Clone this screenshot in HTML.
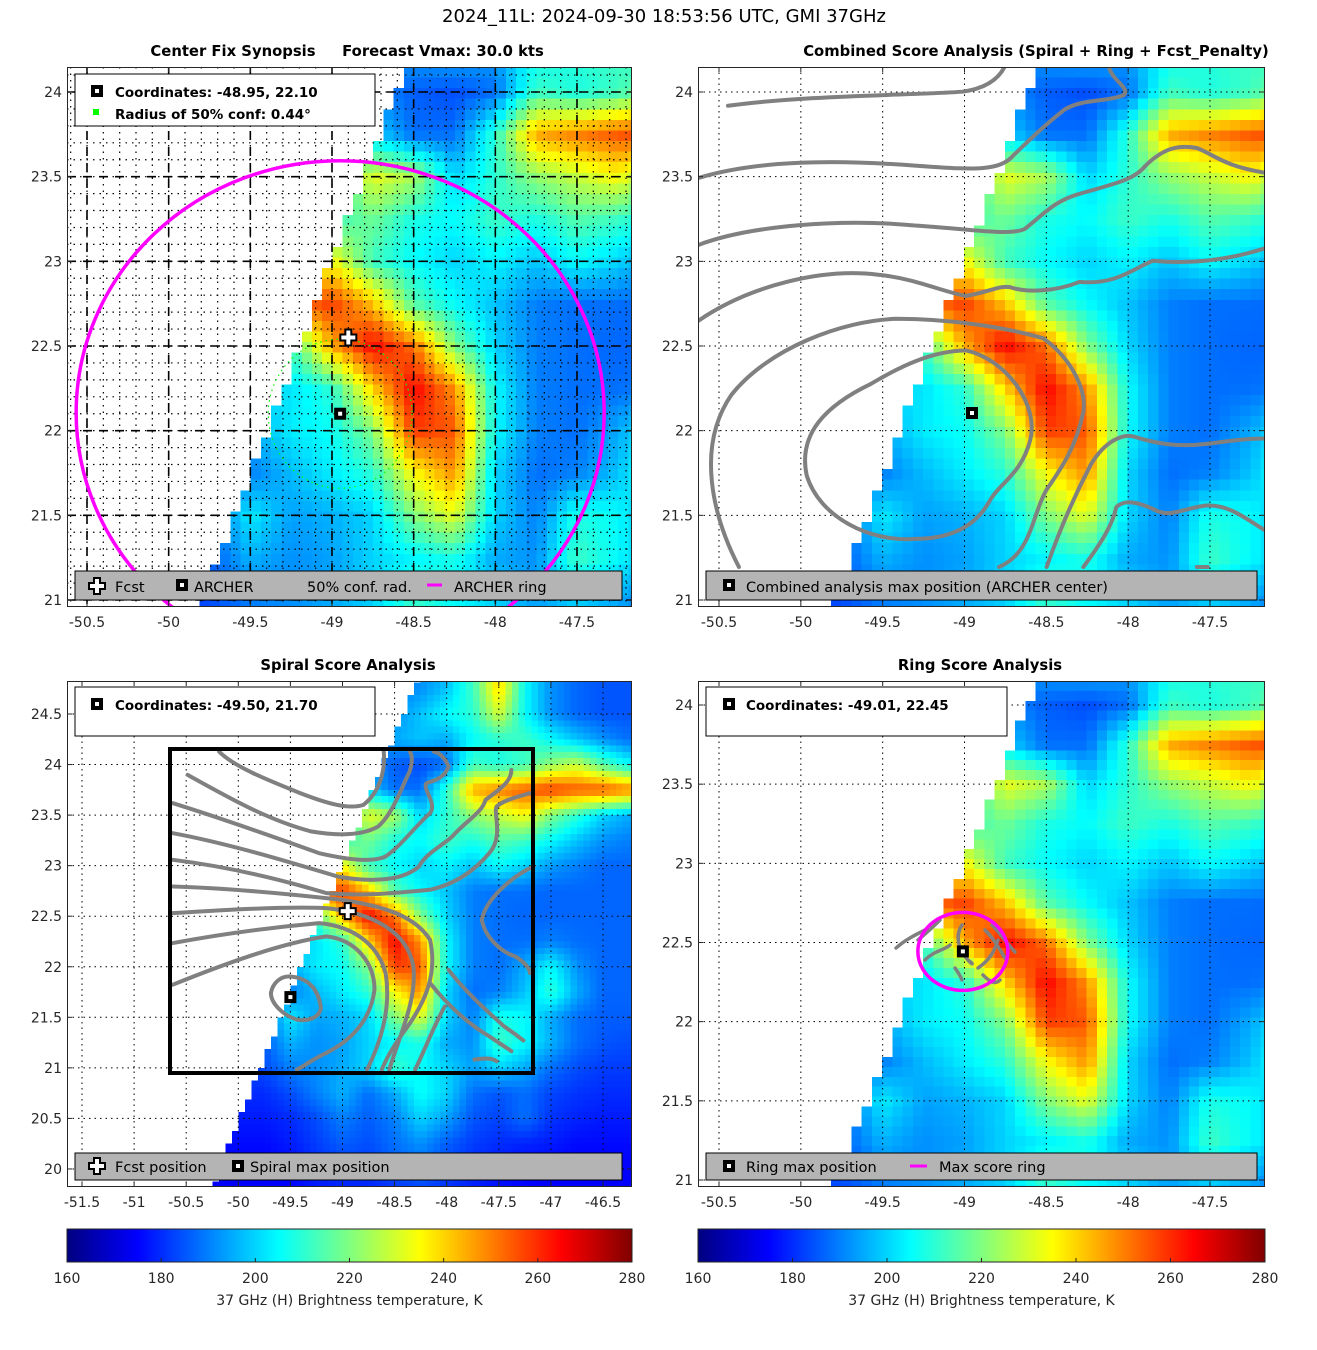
<!DOCTYPE html>
<html><head><meta charset="utf-8">
<style>
html,body{margin:0;padding:0;background:#fff;}
svg{display:block;font-family:"DejaVu Sans","Liberation Sans",sans-serif;}
.tk{font-size:14px;fill:#262626;}
.ttl{font-size:14.8px;font-weight:bold;fill:#000;}
.lg{font-size:14.5px;fill:#000;}
.lgb{font-size:13.5px;font-weight:bold;fill:#000;}
.ct{fill:none;stroke:#808080;stroke-width:4;stroke-linecap:round;stroke-linejoin:round;}
</style></head>
<body>
<svg id="chart" width="1317" height="1350" viewBox="0 0 1317 1350" xmlns="http://www.w3.org/2000/svg">
<defs>
<clipPath id="c1"><rect x="67" y="67" width="565" height="540"/></clipPath>
<clipPath id="c2"><rect x="698" y="67" width="567" height="540"/></clipPath>
<clipPath id="c3"><rect x="67" y="681" width="565" height="506"/></clipPath>
<clipPath id="c4"><rect x="698" y="681" width="567" height="506"/></clipPath>
<linearGradient id="jet" x1="0" x2="1" y1="0" y2="0"></linearGradient>
</defs>
<text x="664" y="22" text-anchor="middle" font-size="18" fill="#000">2024_11L: 2024-09-30 18:53:56 UTC, GMI 37GHz</text>
<text x="233" y="56" text-anchor="middle" class="ttl">Center Fix Synopsis</text>
<text x="443" y="56" text-anchor="middle" class="ttl">Forecast Vmax: 30.0 kts</text>
<text x="1036" y="56" text-anchor="middle" class="ttl">Combined Score Analysis (Spiral + Ring + Fcst_Penalty)</text>
<text x="348" y="670" text-anchor="middle" class="ttl">Spiral Score Analysis</text>
<text x="980" y="670" text-anchor="middle" class="ttl">Ring Score Analysis</text>
<g id="layers"></g>
</svg>
<script>
// ---- data: 37 GHz brightness temperature grid (K), 0.25 deg spacing ----
const lons=[-50.75,-50.5,-50.25,-50,-49.75,-49.5,-49.25,-49,-48.75,-48.5,-48.25,-48,-47.75,-47.5,-47.25,-47,-46.75,-46.5,-46.25];
const lats=[24.75,24.5,24.25,24,23.75,23.5,23.25,23,22.75,22.5,22.25,22,21.75,21.5,21.25,21,20.75,20.5,20.25,20,19.75];
const tb=[
[187,187,187,187,187,187,187,187,187,190,192,198,212,240,205,192,187,185,185],
[187,187,187,187,187,187,187,187,187,192,198,205,210,230,205,192,187,185,185],
[187,187,187,187,187,187,187,187,190,195,198,195,205,210,212,205,198,192,188],
[187,187,187,187,187,187,187,187,192,186,184,188,212,208,212,222,228,215,205],
[187,187,187,187,187,187,187,187,200,188,188,210,245,250,255,258,255,255,250],
[187,187,187,187,187,187,187,205,232,225,200,210,222,228,235,220,210,200,195],
[187,187,187,187,187,187,195,212,218,208,205,212,208,215,212,205,198,192,190],
[187,187,187,187,187,187,212,235,212,205,200,204,198,205,200,193,190,187,187],
[187,187,187,187,187,200,250,258,242,215,205,198,190,188,188,187,187,187,187],
[187,187,187,187,187,222,212,245,265,252,220,200,190,188,187,187,187,187,187],
[187,187,187,187,187,200,202,210,240,265,248,205,190,188,188,190,188,187,187],
[187,187,187,187,185,195,203,206,220,258,255,205,190,188,195,205,192,187,187],
[187,187,187,187,185,190,197,203,210,235,248,200,188,190,198,210,195,187,187],
[187,187,187,187,186,203,194,196,200,220,232,200,190,208,205,195,188,186,186],
[184,184,184,184,186,196,192,194,200,204,208,195,192,212,205,196,188,185,184],
[182,182,182,182,184,190,192,195,200,212,205,200,194,200,195,188,184,182,182],
[180,180,180,180,180,184,190,196,188,195,206,200,188,185,188,183,181,180,180],
[178,178,178,178,178,180,184,190,186,190,200,194,185,183,188,181,179,178,178],
[176,176,176,176,176,178,182,186,184,188,192,186,182,180,179,178,176,176,176],
[175,175,175,175,175,176,180,182,182,186,188,184,180,178,176,175,175,175,175],
[174,174,174,174,174,175,177,178,178,180,182,180,178,176,175,174,174,174,174]
];
const cbTicks=[160,180,200,220,240,260,280];
const xTicksTop=[-50.5,-50,-49.5,-49,-48.5,-48,-47.5];
const yTicksTop=[21,21.5,22,22.5,23,23.5,24];
const xTicksP3=[-51.5,-51,-50.5,-50,-49.5,-49,-48.5,-48,-47.5,-47,-46.5];
const yTicksP3=[20,20.5,21,21.5,22,22.5,23,23.5,24,24.5];
const centerP1=[-48.95,22.10];
const fcstPos=[-48.90,22.55];
const spiralMax=[-49.50,21.70];
const ringMax=[-49.01,22.45];
const confRadius=0.44;

const NS="http://www.w3.org/2000/svg";
const root=document.getElementById('layers');
function mk(tag,attrs,parent){const e=document.createElementNS(NS,tag);for(const k in attrs)e.setAttribute(k,attrs[k]);(parent||root).appendChild(e);return e;}
function jet(v){let t=(v-160)/120;t=Math.max(0,Math.min(1,t));
 const c=x=>Math.round(255*Math.max(0,Math.min(1,x)));
 return `rgb(${c(1.5-Math.abs(4*t-3))},${c(1.5-Math.abs(4*t-2))},${c(1.5-Math.abs(4*t-1))})`;}
function val(lon,lat){
 let fj=(lon-lons[0])/0.25, fi=(lats[0]-lat)/0.25;
 fj=Math.max(0,Math.min(lons.length-1,fj)); fi=Math.max(0,Math.min(lats.length-1,fi));
 const j0=Math.floor(fj),i0=Math.floor(fi),j1=Math.min(j0+1,lons.length-1),i1=Math.min(i0+1,lats.length-1);
 const a=fj-j0,b=fi-i0;
 return (tb[i0][j0]*(1-a)+tb[i0][j1]*a)*(1-b)+(tb[i1][j0]*(1-a)+tb[i1][j1]*a)*b;}
function swathEdge(lat){return -48.55-(24.15-lat)*0.393;}

const panels=[
 {id:1,clip:'c1',x:67,y:67,w:565,h:540,lonRef:-50.5,xRef:87,sx:163.33,latRef:24,yRef:92,sy:169.33,xt:xTicksTop,yt:yTicksTop},
 {id:2,clip:'c2',x:698,y:67,w:567,h:540,lonRef:-50.5,xRef:719,sx:163.67,latRef:24,yRef:92,sy:169.33,xt:xTicksTop,yt:yTicksTop},
 {id:3,clip:'c3',x:67,y:681,w:565,h:506,lonRef:-51.5,xRef:82,sx:104.2,latRef:24.5,yRef:714,sy:101.1,xt:xTicksP3,yt:yTicksP3},
 {id:4,clip:'c4',x:698,y:681,w:567,h:506,lonRef:-50.5,xRef:719,sx:163.67,latRef:24,yRef:705,sy:158.33,xt:xTicksTop,yt:yTicksTop}
];
panels.forEach(p=>{p.px=lon=>p.xRef+(lon-p.lonRef)*p.sx;p.py=lat=>p.yRef-(lat-p.latRef)*p.sy;});

function square(x,y,parent,name){
 const g=mk('g',{},parent);
 
 
 mk('rect',{x:x-6,y:y-6,width:12,height:12,fill:'#000'},g);
 mk('rect',{x:x-2,y:y-2,width:4,height:4,fill:'#fff'},g);
 return g;}
function cross(x,y,parent,name){
 const d=`M${x-3},${y-8}h6v5h5v6h-5v5h-6v-5h-5v-6h5z`;
 const e=mk('path',{d:d,fill:'#fff',stroke:'#000','stroke-width':2},parent);
 
 
 return e;}

panels.forEach(p=>{
 const g=mk('g',{'clip-path':`url(#${p.clip})`});
 
 
 mk('rect',{x:p.x,y:p.y,width:p.w,height:p.h,fill:'#fff'},g);
 const hm=mk('g',{'shape-rendering':'crispEdges'},g);
 
 
 const step=0.0625;
 const lonMin=Math.max(lons[0]-0.125,p.lonRef+(p.x-p.xRef)/p.sx-step);
 const lonMax=Math.min(lons[lons.length-1]+0.125,p.lonRef+(p.x+p.w-p.xRef)/p.sx+step);
 const latMax=Math.min(lats[0]+0.125,p.latRef+(p.yRef-p.y)/p.sy+step);
 const latMin=Math.max(lats[lats.length-1]-0.125,p.latRef-(p.y+p.h-p.yRef)/p.sy-step);
 for(let lon=lonMin+step/2;lon<lonMax;lon+=step){
  for(let lat=latMax-step/2;lat>latMin;lat-=step){
   if(lon<swathEdge(lat))continue;
   const x0=p.px(lon-step/2),x1=p.px(lon+step/2),y0=p.py(lat+step/2),y1=p.py(lat-step/2);
   const r=mk('rect',{x:x0.toFixed(1),y:y0.toFixed(1),width:(x1-x0+0.6).toFixed(1),height:(y1-y0+0.6).toFixed(1),fill:jet(val(lon,lat))},hm);
   
   
  }}
 const gg=mk('g',{},g);
 
 
 if(p.id===1){
  for(let l=-50.6;l<=-47.1;l+=0.1){const x=p.px(l);mk('line',{x1:x,x2:x,y1:p.y,y2:p.y+p.h,stroke:'#000','stroke-width':1.2,'stroke-dasharray':'1.5,5'},gg);}
  for(let l=21;l<=24.2;l+=0.1){const y=p.py(l);mk('line',{x1:p.x,x2:p.x+p.w,y1:y,y2:y,stroke:'#000','stroke-width':1.2,'stroke-dasharray':'1.5,5'},gg);}
  p.xt.forEach(t=>{const x=p.px(t);mk('line',{x1:x,x2:x,y1:p.y,y2:p.y+p.h,stroke:'#000','stroke-width':1.6,'stroke-dasharray':'9,7'},gg);});
  p.yt.forEach(t=>{const y=p.py(t);mk('line',{x1:p.x,x2:p.x+p.w,y1:y,y2:y,stroke:'#000','stroke-width':1.6,'stroke-dasharray':'9,7'},gg);});
 } else {
  p.xt.forEach(t=>{const x=p.px(t);mk('line',{x1:x,x2:x,y1:p.y,y2:p.y+p.h,stroke:'#000','stroke-width':1,'stroke-dasharray':'1.5,4'},gg);});
  p.yt.forEach(t=>{const y=p.py(t);mk('line',{x1:p.x,x2:p.x+p.w,y1:y,y2:y,stroke:'#000','stroke-width':1,'stroke-dasharray':'1.5,4'},gg);});
 }
 p.g=g;
});

// ---- panel 1 overlays ----
{const p=panels[0];
 const cx=p.px(centerP1[0]),cy=p.py(centerP1[1]);
 const ring=mk('ellipse',{cx:cx,cy:cy-1,rx:264,ry:252,fill:'none',stroke:'#ff00ff','stroke-width':3.5},p.g);
 
 
 const cr=mk('ellipse',{cx:cx,cy:cy,rx:confRadius*p.sx,ry:confRadius*p.sy,fill:'none',stroke:'#00ff00','stroke-width':1.2,'stroke-dasharray':'1.5,4'},p.g);
 
 
 cross(p.px(fcstPos[0]),p.py(fcstPos[1]),p.g,'fcst-marker');
 square(cx,cy,p.g,'archer-marker');
}
// ---- panel 2 contours ----
{const p=panels[1];
 const cg=mk('g',{transform:'translate(695,60) scale(0.3663,0.3521)'},p.g);
 
 
 const paths=[
 'M90,130 C300,100 600,100 730,90 C800,80 830,50 845,20',
 'M10,335 C150,290 350,280 600,300 C750,310 830,320 870,270 C920,220 960,180 1010,140 C1060,110 1120,120 1170,100 C1190,80 1140,60 1130,20',
 'M10,525 C150,470 400,450 600,470 C750,480 860,500 900,480 C950,440 980,400 1050,380 C1150,350 1200,340 1230,300 C1280,250 1320,240 1370,250 C1420,270 1440,300 1555,320',
 'M10,740 C150,640 350,590 500,610 C600,620 680,660 740,670 C800,660 830,640 860,645 C900,660 980,660 1050,630 C1150,640 1200,590 1250,570 C1350,580 1450,570 1555,535',
 'M120,1440 C50,1300 0,1100 100,950 C200,820 400,740 550,735 C700,735 850,760 950,790 C1030,850 1070,940 1060,1000 C1040,1100 1000,1160 960,1220 C920,1290 920,1400 830,1440',
 'M740,825 C850,850 940,980 915,1080 C890,1180 830,1200 800,1260 C760,1330 690,1360 600,1360 C480,1370 340,1300 305,1180 C280,1060 360,980 480,920 C560,870 650,825 740,825 Z',
 'M960,1440 C990,1350 1030,1250 1080,1150 C1120,1080 1170,1060 1200,1070 C1260,1090 1320,1100 1400,1090 C1470,1080 1510,1075 1555,1075',
 'M1060,1440 C1110,1370 1140,1320 1150,1270 C1170,1250 1200,1250 1260,1280 C1300,1300 1340,1270 1400,1265 C1460,1265 1500,1300 1555,1335',
 'M1370,1440 L1400,1440'];
 paths.forEach(d=>{const e=mk('path',{d:d,class:'ct','vector-effect':'non-scaling-stroke'},cg);});
 square(972,413,p.g,'combined-max-marker');
}
// ---- panel 3 ----
{const p=panels[2];
 const cg=mk('g',{transform:'translate(60,680) scale(0.370,0.333)'},p.g);
 
 
 const paths=[
 'M430,215 C470,260 560,300 650,340 C720,370 780,390 820,375 C860,340 880,280 875,215',
 'M345,285 C450,350 560,420 680,455 C760,470 820,465 860,440 C900,400 920,330 945,275 C955,240 950,220 945,215',
 'M305,370 C450,420 600,480 700,520 C800,545 850,545 880,530 C920,500 960,440 1000,400 C1020,370 980,330 990,310 C1020,300 1040,290 1050,260 C1040,230 1020,215 1010,215',
 'M305,460 C450,490 600,540 750,590 C850,610 930,600 970,560 C990,520 1030,500 1060,470 C1100,420 1140,400 1150,360 C1200,320 1220,300 1220,270',
 'M305,540 C450,560 600,600 720,640 C820,650 900,640 1000,630 C1080,610 1130,560 1160,520 C1200,470 1170,400 1180,380 C1200,360 1240,350 1270,340',
 'M305,620 C450,625 600,640 760,660 C880,680 960,710 1000,780 C1020,880 990,960 940,1040 C900,1100 880,1140 870,1170',
 'M305,700 C450,690 600,680 720,685 C850,700 940,760 955,860 C965,960 920,1060 890,1170',
 'M305,790 C450,760 600,740 700,730 C800,740 860,800 880,880 C895,980 870,1080 830,1170',
 'M305,915 C450,850 600,790 720,770 C800,780 850,850 850,930 C840,1020 790,1080 720,1120 C680,1140 660,1160 640,1170',
 'M620,890 C680,895 700,940 705,985 C700,1020 660,1025 640,1020 C600,1005 570,970 570,940 C575,910 595,890 620,890 Z',
 'M1280,560 C1220,590 1150,660 1140,720 C1150,780 1200,820 1230,830 C1260,850 1270,870 1270,880',
 'M1050,870 C1090,930 1150,990 1200,1040 C1240,1070 1260,1090 1250,1080',
 'M1000,910 C1050,980 1100,1030 1160,1070 C1200,1100 1215,1110 1220,1115',
 'M960,1170 C990,1100 1010,1040 1040,980',
 'M1120,1140 C1150,1135 1170,1135 1180,1145'];
 paths.forEach(d=>{const e=mk('path',{d:d,class:'ct','vector-effect':'non-scaling-stroke'},cg);});
 const box=mk('rect',{x:170,y:749,width:363,height:324,fill:'none',stroke:'#000','stroke-width':4},p.g);
 
 
 cross(p.px(-48.95),p.py(22.55),p.g,'fcst-marker');
 square(p.px(spiralMax[0]),p.py(spiralMax[1]),p.g,'spiral-max-marker');
}
// ---- panel 4 ----
{const p=panels[3];
 const cx=p.px(ringMax[0]),cy=p.py(ringMax[1])+1;
 const cg=mk('g',{},p.g);
 
 
 ['M896,948 C905,940 915,935 925,930','M918,940 C930,930 935,925 940,920','M925,960 C935,950 945,950 950,945','M962,925 C955,935 958,950 968,960 C975,965 972,965 968,960','M978,968 C990,960 995,950 998,940','M985,930 C995,940 1000,950 1005,958','M992,925 C1002,935 1008,945 1015,952','M955,968 C960,975 962,980 962,980','M983,975 C990,982 995,985 1000,980'].forEach(d=>{
  const e=mk('path',{d:d,fill:'none',stroke:'#808080','stroke-width':3.5,'stroke-linecap':'round'},cg);
  
  });
 const r=mk('ellipse',{cx:cx,cy:cy,rx:45,ry:39,fill:'none',stroke:'#ff00ff','stroke-width':3.5},p.g);
 
 
 square(cx,cy,p.g,'ring-max-marker');
}

// ---- axes frames, ticks, labels ----
panels.forEach(p=>{
 const ax=mk('g',{});
 
 
 mk('rect',{x:p.x+0.5,y:p.y+0.5,width:p.w-1,height:p.h-1,fill:'none',stroke:'#262626','stroke-width':1},ax);
 p.xt.forEach(t=>{const x=p.px(t);
  mk('line',{x1:x,x2:x,y1:p.y+p.h,y2:p.y+p.h-5,stroke:'#262626'},ax);
  mk('line',{x1:x,x2:x,y1:p.y,y2:p.y+5,stroke:'#262626'},ax);
  const tx=mk('text',{x:x,y:p.y+p.h+20,'text-anchor':'middle',class:'tk'},ax);tx.textContent=String(t);
  
  });
 p.yt.forEach(t=>{const y=p.py(t);
  mk('line',{x1:p.x,x2:p.x+5,y1:y,y2:y,stroke:'#262626'},ax);
  mk('line',{x1:p.x+p.w,x2:p.x+p.w-5,y1:y,y2:y,stroke:'#262626'},ax);
  const tx=mk('text',{x:p.x-5,y:y+5,'text-anchor':'end',class:'tk'},ax);tx.textContent=String(t);
  
  });
});

// ---- legends ----
function box(x,y,w,h,fill,name){const r=mk('rect',{x:x,y:y,width:w,height:h,fill:fill,stroke:'#000','stroke-width':1});return r;}
function txt(x,y,s,cls,name){const t=mk('text',{x:x,y:y,class:cls});t.textContent=s;return t;}
box(75,74,300,52,'#fff','panel1-info-box');
square(97,91,root,'info-coord-marker');
txt(115,97,'Coordinates: -48.95, 22.10','lgb','coordinates-text');
mk('rect',{x:93,y:109,width:6,height:6,fill:'#00ff00'});
txt(115,119,'Radius of 50% conf: 0.44°','lgb','radius-text');
box(75,571,547,29,'#b4b4b4','panel1-legend');
cross(97,586,root,'legend-fcst-marker');
txt(115,592,'Fcst','lg','legend-fcst');
square(182,585,root,'legend-archer-marker');
txt(194,592,'ARCHER','lg','legend-archer');
txt(307,592,'50% conf. rad.','lg','legend-conf');
mk('line',{x1:427,x2:442,y1:585,y2:585,stroke:'#ff00ff','stroke-width':3});
txt(454,592,'ARCHER ring','lg','legend-archer-ring');
box(706,571,551,29,'#b4b4b4','panel2-legend');
square(729,585,root,'legend-combined-marker');
txt(746,592,'Combined analysis max position (ARCHER center)','lg','legend-combined');
box(75,687,300,49,'#fff','panel3-info-box');
square(97,704,root,'info-coord-marker');
txt(115,710,'Coordinates: -49.50, 21.70','lgb','coordinates-text');
box(75,1153,547,27,'#b4b4b4','panel3-legend');
cross(97,1166,root,'legend-fcst-marker');
txt(115,1172,'Fcst position','lg','legend-fcst-position');
square(238,1166,root,'legend-spiral-marker');
txt(250,1172,'Spiral max position','lg','legend-spiral');
box(706,687,301,49,'#fff','panel4-info-box');
square(729,704,root,'info-coord-marker');
txt(746,710,'Coordinates: -49.01, 22.45','lgb','coordinates-text');
box(706,1153,551,27,'#b4b4b4','panel4-legend');
square(729,1166,root,'legend-ring-marker');
txt(746,1172,'Ring max position','lg','legend-ring');
mk('line',{x1:910,x2:927,y1:1166,y2:1166,stroke:'#ff00ff','stroke-width':3});
txt(939,1172,'Max score ring','lg','legend-max-ring');

// ---- colorbars ----
const grad=document.getElementById('jet');
for(let i=0;i<=40;i++){const s=document.createElementNS(NS,'stop');s.setAttribute('offset',(i/40));s.setAttribute('stop-color',jet(160+120*i/40));grad.appendChild(s);}
[[67,565],[698,567]].forEach(([x,w],n)=>{
 const cb=mk('g',{});
 
 
 mk('rect',{x:x,y:1229,width:w,height:33,fill:'url(#jet)',stroke:'#262626','stroke-width':1},cb);
 cbTicks.forEach(t=>{const tx0=x+(t-160)/120*w;
  mk('line',{x1:tx0,x2:tx0,y1:1262,y2:1258,stroke:'#262626'},cb);
  const e=mk('text',{x:tx0,y:1283,'text-anchor':'middle',class:'tk'},cb);e.textContent=String(t);
  
  });
 const lab=mk('text',{x:x+w/2,y:1305,'text-anchor':'middle',class:'tk'},cb);
 lab.textContent='37 GHz (H) Brightness temperature, K';
 
 
});
</script>
</body></html>
